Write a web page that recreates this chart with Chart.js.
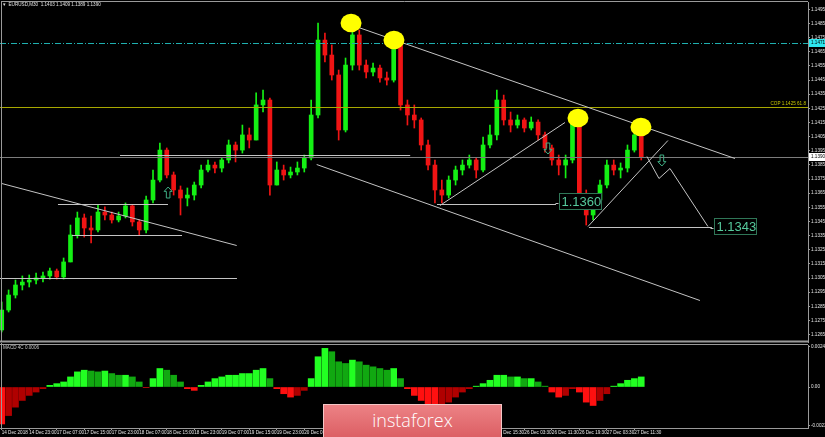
<!DOCTYPE html>
<html>
<head>
<meta charset="utf-8">
<script src="https://cdn.jsdelivr.net/npm/chart.js@4.4.1/dist/chart.umd.min.js"></script>
<style>
  html, body { margin: 0; padding: 0; background: #000; }
  #wrap { position: relative; width: 825px; height: 437px; overflow: hidden; background: #000; }
  #main { position: absolute; left: 0; top: 0; }
  #macd { position: absolute; left: 0; top: 343px; }
  #title { position: absolute; left: 3px; top: 2px; color: #e0e0e0; font: 4.6px "Liberation Sans", sans-serif; white-space: pre; }
  #macdTitle { position: absolute; left: 3px; top: 345px; color: #c8c8c8; font: 4.6px "Liberation Sans", sans-serif; white-space: pre; }
  #logo { position: absolute; left: 323px; top: 404px; width: 179px; height: 33px; box-sizing: border-box;
          border: 1px solid #f4c6c6; border-bottom: none; background: linear-gradient(#ec8285, #dc5f64);
          color: #fff; font: 300 18px "Open Sans", sans-serif; text-align: center; line-height: 31px; }
</style>
</head>
<body>
<div id="wrap">
  <canvas id="main" width="825" height="343"></canvas>
  <canvas id="macd" width="825" height="94"></canvas>
  <div id="title">▾  EURUSD,M30  1.1403 1.1409 1.1389 1.1390</div>
  <div id="macdTitle">MACD 4C 0.0006</div>
  <div id="logo">instaforex</div>
</div>
<script>
// === Data (EURUSD, one candle per 2 hours) ===
const open = [
  1.12683, 1.12824, 1.12930, 1.13001, 1.13022, 1.13036, 1.13051, 1.13065, 1.13100, 1.13058,
  1.13164, 1.13355, 1.13475, 1.13404, 1.13390, 1.13517, 1.13496, 1.13461, 1.13489, 1.13560,
  1.13447, 1.13390, 1.13602, 1.13743, 1.13955, 1.13779, 1.13673, 1.13616, 1.13637, 1.13708,
  1.13814, 1.13849, 1.13828, 1.13885, 1.13991, 1.13955, 1.14062, 1.14026, 1.14274, 1.14309,
  1.13708, 1.13814, 1.13779, 1.13800, 1.13828, 1.13899, 1.14203, 1.14733, 1.14627, 1.14486,
  1.14097, 1.14556, 1.14769, 1.14556, 1.14507, 1.14535, 1.14465, 1.14450, 1.14719, 1.14274,
  1.14203, 1.14168, 1.13991, 1.13849, 1.13673, 1.13637, 1.13743, 1.13814, 1.13849, 1.13885,
  1.13814, 1.13991, 1.14062, 1.14309, 1.14168, 1.14132, 1.14168, 1.14111, 1.14153, 1.14062,
  1.13970, 1.13885, 1.13849, 1.13885, 1.14153, 1.13637, 1.13496, 1.13602, 1.13708, 1.13849,
  1.13814, 1.13828, 1.13955, 1.14062
];
const high = [
  1.12881, 1.12966, 1.13036, 1.13065, 1.13072, 1.13086, 1.13093, 1.13121, 1.13114, 1.13192,
  1.13425, 1.13517, 1.13503, 1.13489, 1.13567, 1.13553, 1.13517, 1.13517, 1.13581, 1.13567,
  1.13461, 1.13630, 1.13814, 1.14005, 1.13970, 1.13800, 1.13701, 1.13687, 1.13729, 1.13849,
  1.13885, 1.13871, 1.13899, 1.14026, 1.14012, 1.14132, 1.14111, 1.14359, 1.14380, 1.14323,
  1.13871, 1.13849, 1.13835, 1.13871, 1.13920, 1.14309, 1.14853, 1.14783, 1.14698, 1.14521,
  1.14606, 1.14860, 1.14804, 1.14592, 1.14571, 1.14556, 1.14507, 1.14747, 1.14733, 1.14309,
  1.14274, 1.14182, 1.14026, 1.13885, 1.13743, 1.13772, 1.13842, 1.13885, 1.13920, 1.13899,
  1.14047, 1.14132, 1.14380, 1.14344, 1.14224, 1.14203, 1.14182, 1.14189, 1.14168, 1.14083,
  1.13991, 1.13920, 1.13920, 1.14182, 1.14168, 1.13673, 1.13637, 1.13743, 1.13885, 1.13885,
  1.13864, 1.13991, 1.14111, 1.14097
];
const low = [
  1.12669, 1.12810, 1.12909, 1.12966, 1.12987, 1.13008, 1.13022, 1.13043, 1.13043, 1.13043,
  1.13164, 1.13333, 1.13340, 1.13298, 1.13376, 1.13461, 1.13439, 1.13447, 1.13475, 1.13418,
  1.13355, 1.13369, 1.13581, 1.13729, 1.13758, 1.13637, 1.13496, 1.13560, 1.13602, 1.13687,
  1.13800, 1.13793, 1.13800, 1.13864, 1.13871, 1.13934, 1.13970, 1.14026, 1.14224, 1.13637,
  1.13708, 1.13743, 1.13758, 1.13779, 1.13800, 1.13885, 1.14182, 1.14578, 1.14450, 1.14026,
  1.14083, 1.14521, 1.14521, 1.14465, 1.14479, 1.14436, 1.14415, 1.14436, 1.14238, 1.14132,
  1.14111, 1.13955, 1.13814, 1.13581, 1.13581, 1.13616, 1.13708, 1.13779, 1.13828, 1.13758,
  1.13800, 1.13970, 1.14026, 1.14132, 1.14083, 1.14111, 1.14083, 1.14097, 1.14026, 1.13941,
  1.13849, 1.13779, 1.13758, 1.13864, 1.13567, 1.13425, 1.13461, 1.13581, 1.13687, 1.13779,
  1.13758, 1.13800, 1.13941, 1.13885
];
const close = [
  1.12824, 1.12930, 1.13001, 1.13022, 1.13036, 1.13051, 1.13065, 1.13100, 1.13058, 1.13164,
  1.13355, 1.13475, 1.13404, 1.13390, 1.13517, 1.13496, 1.13461, 1.13489, 1.13560, 1.13447,
  1.13390, 1.13602, 1.13743, 1.13955, 1.13779, 1.13673, 1.13616, 1.13637, 1.13708, 1.13814,
  1.13849, 1.13828, 1.13885, 1.13991, 1.13955, 1.14062, 1.14026, 1.14274, 1.14309, 1.13708,
  1.13814, 1.13779, 1.13800, 1.13828, 1.13899, 1.14203, 1.14733, 1.14627, 1.14486, 1.14097,
  1.14556, 1.14769, 1.14556, 1.14507, 1.14535, 1.14465, 1.14450, 1.14719, 1.14274, 1.14203,
  1.14168, 1.13991, 1.13849, 1.13673, 1.13637, 1.13743, 1.13814, 1.13849, 1.13885, 1.13814,
  1.13991, 1.14062, 1.14309, 1.14168, 1.14132, 1.14168, 1.14111, 1.14153, 1.14062, 1.13970,
  1.13885, 1.13849, 1.13885, 1.14153, 1.13637, 1.13496, 1.13602, 1.13708, 1.13849, 1.13814,
  1.13828, 1.13955, 1.14062, 1.13906
];
// MACD 4C histogram
const macd = [
  -0.0022, -0.0017, -0.0012, -0.0008, -0.0005, -0.0003, -0.0001, 0.0001, 0.0002, 0.0003,
  0.0006, 0.0009, 0.0010, 0.00095, 0.0009, 0.00095, 0.0008, 0.0007, 0.0007, 0.0006,
  0.0003, -0.00003, 0.0005, 0.0011, 0.0010, 0.0007, 0.0003, -0.0001, -0.0002, 0.0001,
  0.0003, 0.0005, 0.0006, 0.0007, 0.0007, 0.0008, 0.0008, 0.0010, 0.0011, 0.0005,
  -0.0001, -0.0004, -0.0006, -0.0005, -0.0002, 0.0005, 0.0018, 0.0023, 0.0021, 0.0015,
  0.0014, 0.0016, 0.0015, 0.0013, 0.0012, 0.0011, 0.0010, 0.0011, 0.0005, -0.0001,
  -0.0005, -0.0008, -0.0010, -0.0012, -0.0011, -0.0009, -0.0006, -0.0003, -0.0001, 0.00005,
  0.0002, 0.0004, 0.0007, 0.0007, 0.0006, 0.0006, 0.0005, 0.0005, 0.0003, 0.00005,
  -0.0003, -0.0006, -0.0005, -0.0001, -0.0003, -0.0009, -0.0011, -0.0008, -0.0004, 0.00005,
  0.0002, 0.0004, 0.0005, 0.0006
];
// one time label every 4 candles
const timeLabels = [
  '14 Dec 2018', '14 Dec 23:00', '17 Dec 07:00', '17 Dec 15:00', '17 Dec 23:00', '18 Dec 07:00',
  '18 Dec 15:00', '18 Dec 23:00', '19 Dec 07:00', '19 Dec 15:00', '19 Dec 23:00', '20 Dec 07:00',
  '20 Dec 15:00', '20 Dec 23:00', '21 Dec 07:00', '21 Dec 15:00', '21 Dec 23:00', '24 Dec 07:30',
  '24 Dec 15:30', '26 Dec 03:30', '26 Dec 11:30', '26 Dec 19:30', '27 Dec 03:30', '27 Dec 11:30'
];
const priceTicks = [];
for (let k = 0; k <= 23; k++) priceTicks.push(+(1.1265 + k * 0.001).toFixed(4));
const macdTicks = [-0.0023, 0, 0.0024];

// === Drawn objects (candle index, price) ===
const levelCyan = 1.14712;
const levelFibo = 1.14260;
const levelBid = 1.13906;
const trendLines = [
  [0, 1.13724, 34.17, 1.13284],
  [8.18, 1.13576, 24.18, 1.13576],
  [10.22, 1.13352, 26.22, 1.13352],
  [-0.25, 1.13048, 34.21, 1.13048],
  [50.65, 1.14846, 106.63, 1.13899],
  [45.8, 1.13854, 101.54, 1.12898],
  [63.73, 1.13567, 81.91, 1.14156],
  [63.3, 1.13572, 80.6, 1.13572],
  [85.25, 1.13418, 96.88, 1.14026],
  [85.4, 1.13409, 103.28, 1.13409],
  [17.2, 1.13920, 59.4, 1.13920]
];
const zigzag = [[93.83, 1.13913], [95.58, 1.13758], [97.18, 1.13828], [102.7, 1.13418]];
const circles = [[50.8, 1.14853], [57.04, 1.14733], [83.8, 1.14182], [92.96, 1.14118]];
const upArrows = [[24.2, 1.13659]];
const downArrows = [[79.44, 1.13970], [96.0, 1.13885]];
const tags = [[81.04, 1.13595, '1.1360'], [103.57, 1.13418, '1.1343']];

const BULL = '#14f014', BEAR = '#f01414';
const candleColors = open.map((o, i) => close[i] >= o ? BULL : BEAR);
const macdColors = macd.map((v, i) => {
  const prev = i > 0 ? macd[i - 1] : v;
  if (v >= 0) return v >= prev ? '#22ff22' : '#11a811';
  return v <= prev ? '#ff1010' : '#b00000';
});
const FONT = '"Liberation Sans", sans-serif';
const AXIS = '#9a9a9a';

// === Helpers ===
function seg(ctx, x1, y1, x2, y2) {
  ctx.beginPath();
  ctx.moveTo(x1, y1);
  ctx.lineTo(x2, y2);
  ctx.stroke();
}

function arrow(ctx, cx, cy, dir) {
  // hollow arrow, dir = -1 up, 1 down
  const h = 5.5 * dir;
  ctx.beginPath();
  ctx.moveTo(cx, cy + h);
  ctx.lineTo(cx + 4, cy + h * 0.2);
  ctx.lineTo(cx + 1.8, cy + h * 0.2);
  ctx.lineTo(cx + 1.8, cy - h);
  ctx.lineTo(cx - 1.8, cy - h);
  ctx.lineTo(cx - 1.8, cy + h * 0.2);
  ctx.lineTo(cx - 4, cy + h * 0.2);
  ctx.closePath();
  ctx.stroke();
}

function axisBox(ctx, yPix, text, fill) {
  ctx.fillStyle = fill;
  ctx.fillRect(809, Math.round(yPix) - 4, 16, 8);
  ctx.fillStyle = '#000';
  ctx.font = '4.6px ' + FONT;
  ctx.textAlign = 'left';
  ctx.textBaseline = 'middle';
  ctx.fillText(text, 811, Math.round(yPix));
}

const drawings = {
  id: 'drawings',
  afterDatasetsDraw(chart) {
    const { ctx, chartArea: a, scales: { x, y } } = chart;
    const px = v => x.getPixelForValue(v);
    const py = v => Math.round(y.getPixelForValue(v)) + 0.5;
    ctx.save();
    ctx.beginPath();
    ctx.rect(a.left, a.top, a.right - a.left, a.bottom - a.top);
    ctx.clip();
    ctx.lineWidth = 1;

    // price levels
    ctx.strokeStyle = '#1fb0b0';
    ctx.setLineDash([6, 2, 1, 2]);
    seg(ctx, a.left, py(levelCyan), a.right, py(levelCyan));
    ctx.setLineDash([]);
    ctx.strokeStyle = '#a8a800';
    seg(ctx, a.left, py(levelFibo), a.right, py(levelFibo));
    ctx.strokeStyle = '#7c7c7c';
    seg(ctx, a.left, py(levelBid), a.right, py(levelBid));
    ctx.fillStyle = '#c8c800';
    ctx.font = '4.6px ' + FONT;
    ctx.textAlign = 'right';
    ctx.textBaseline = 'bottom';
    ctx.fillText('COP 1.1425 61.8', a.right - 2, py(levelFibo) - 1);

    // trend lines
    ctx.strokeStyle = '#c4c4c4';
    trendLines.forEach(t => seg(ctx, px(t[0]), py(t[1]), px(t[2]), py(t[3])));
    ctx.beginPath();
    zigzag.forEach((p, i) => i ? ctx.lineTo(px(p[0]), py(p[1])) : ctx.moveTo(px(p[0]), py(p[1])));
    ctx.stroke();

    // arrows
    ctx.strokeStyle = '#3fae84';
    upArrows.forEach(p => arrow(ctx, px(p[0]), py(p[1]), -1));
    downArrows.forEach(p => arrow(ctx, px(p[0]), py(p[1]), 1));

    // price tags
    tags.forEach(t => {
      const bx = Math.round(px(t[0])) + 0.5, by = py(t[1]);
      ctx.strokeStyle = '#c4c4c4';
      seg(ctx, bx - 4, by + 2, bx - 1, by + 2);
      ctx.fillStyle = '#000';
      ctx.fillRect(bx, by - 8, 42, 16);
      ctx.strokeStyle = '#2f7657';
      ctx.strokeRect(bx, by - 8, 42, 16);
      ctx.fillStyle = '#55c99c';
      ctx.font = '13px ' + FONT;
      ctx.textAlign = 'left';
      ctx.textBaseline = 'middle';
      ctx.fillText(t[2], bx + 2, by + 1);
    });

    // highlighted tops
    ctx.fillStyle = '#ffff00';
    circles.forEach(c => {
      ctx.beginPath();
      ctx.ellipse(px(c[0]), y.getPixelForValue(c[1]), 10.5, 9.2, 0, 0, Math.PI * 2);
      ctx.fill();
    });
    ctx.restore();

    // axis price boxes
    ctx.save();
    axisBox(ctx, y.getPixelForValue(levelCyan), '1.1471', '#2ee6ee');
    axisBox(ctx, y.getPixelForValue(levelBid), '1.1390', '#ffffff');
    // frame
    ctx.strokeStyle = AXIS;
    ctx.lineWidth = 1;
    seg(ctx, 1.5, 1, 1.5, a.bottom);
    seg(ctx, 1, 1.5, a.right, 1.5);
    ctx.lineWidth = 2;
    seg(ctx, 0, a.bottom - 0.5, a.right + 1, a.bottom - 0.5);
    ctx.restore();
  }
};

const macdFrame = {
  id: 'macdFrame',
  afterDraw(chart) {
    const { ctx, chartArea: a } = chart;
    ctx.save();
    ctx.strokeStyle = AXIS;
    ctx.lineWidth = 1;
    seg(ctx, 1.5, 0, 1.5, a.bottom);
    seg(ctx, 0, 1.5, a.right, 1.5);
    ctx.restore();
  }
};

const idx = open.map((_, i) => i);

// === Price panel ===
new Chart(document.getElementById('main'), {
  type: 'bar',
  data: {
    datasets: [
      { data: idx.map(i => ({ x: i, y: [low[i], high[i]] })), backgroundColor: candleColors,
        barThickness: 1, grouped: false, order: 2 },
      { data: idx.map(i => ({ x: i, y: [open[i], close[i]] })), backgroundColor: candleColors,
        barThickness: 4, grouped: false, order: 1, minBarLength: 1 }
    ]
  },
  options: {
    responsive: false,
    animation: false,
    events: [],
    layout: { padding: { left: 0, top: 2, right: 0, bottom: 1 } },
    plugins: { legend: { display: false }, tooltip: { enabled: false } },
    scales: {
      x: { type: 'linear', min: -0.25, max: 117.25, offset: false, display: false,
           grid: { offset: false } },
      y: {
        position: 'right', min: 1.12598, max: 1.15002,
        afterBuildTicks: s => { s.ticks = priceTicks.map(v => ({ value: v })); },
        afterFit: s => { s.width = 17; s.paddingTop = 0; s.paddingBottom = 0; },
        ticks: { color: '#e4e4e4', font: { family: FONT, size: 4.6 }, padding: 1,
                 callback: v => v.toFixed(4) },
        grid: { drawOnChartArea: false, color: AXIS, tickLength: 2 },
        border: { color: AXIS }
      }
    }
  },
  plugins: [drawings]
});

// === MACD panel ===
new Chart(document.getElementById('macd'), {
  type: 'bar',
  data: {
    datasets: [
      { data: idx.map(i => ({ x: i, y: macd[i] })), backgroundColor: macdColors,
        barThickness: 6 }
    ]
  },
  options: {
    responsive: false,
    animation: false,
    events: [],
    layout: { padding: { left: 0, top: 2, right: 0, bottom: 0 } },
    plugins: { legend: { display: false }, tooltip: { enabled: false } },
    scales: {
      x: {
        type: 'linear', min: -0.25, max: 117.25, offset: false,
        afterBuildTicks: s => { s.ticks = timeLabels.map((_, k) => ({ value: 4 * k })); },
        afterFit: s => { s.height = 9; s.paddingLeft = 0; s.paddingRight = 0; },
        ticks: { color: '#e4e4e4', font: { family: FONT, size: 4.6 }, padding: 0, align: 'start',
                 autoSkip: false, maxRotation: 0, callback: (v, i) => timeLabels[i] },
        grid: { drawOnChartArea: false, color: AXIS, tickLength: 2, offset: false },
        border: { color: AXIS }
      },
      y: {
        position: 'right', min: -0.00244, max: 0.0025,
        afterBuildTicks: s => { s.ticks = macdTicks.map(v => ({ value: v })); },
        afterFit: s => { s.width = 17; s.paddingTop = 0; s.paddingBottom = 0; },
        ticks: { color: '#e4e4e4', font: { family: FONT, size: 4.6 }, padding: 1,
                 callback: v => v === 0 ? '0.00' : v.toFixed(4) },
        grid: { drawOnChartArea: false, color: AXIS, tickLength: 2 },
        border: { color: AXIS }
      }
    }
  },
  plugins: [macdFrame]
});
</script>
</body>
</html>
